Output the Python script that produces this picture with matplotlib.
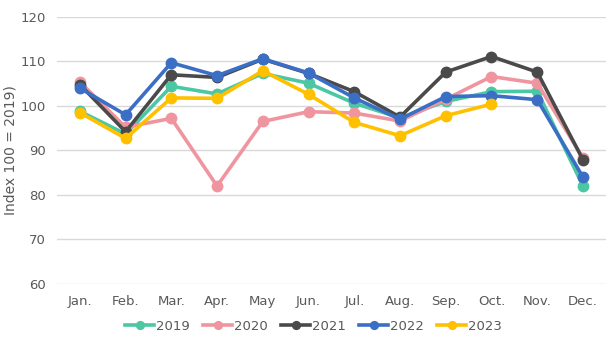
import matplotlib.pyplot as plt

months = ["Jan.", "Feb.", "Mar.", "Apr.", "May", "Jun.", "Jul.", "Aug.", "Sep.", "Oct.", "Nov.", "Dec."]
y2019 = [98.8, 93.7, 104.4, 102.7, 107.3, 105.1, 100.6, 97.3, 101.0, 103.2, 103.3, 82.0]
y2020 = [105.4, 95.2, 97.2, 82.0, 96.5, 98.7, 98.4, 96.6, 101.5, 106.6, 105.1, 88.3]
y2021 = [104.8, 94.2, 107.0, 106.4, 110.5, 107.3, 103.2, 97.5, 107.6, 111.1, 107.6, 87.9]
y2022 = [104.0, 98.0, 109.7, 106.8, 110.6, 107.4, 101.8, 97.0, 102.1, 102.3, 101.4, 84.0]
y2023 = [98.5, 92.7, 101.8, 101.7, 107.9, 102.6, 96.3, 93.3, 97.8, 100.4]

series = [
    ("2019", y2019, "#4cc7a4"),
    ("2020", y2020, "#f0959f"),
    ("2021", y2021, "#4a4a4a"),
    ("2022", y2022, "#3b6fc6"),
    ("2023", y2023, "#ffc000"),
]

fig = plt.figure(figsize=(6.16, 3.38), dpi=100)
ax = fig.add_axes([0.0925, 0.16, 0.891, 0.79])

for name, vals, col in series:
    ax.plot(range(len(vals)), vals, color=col, lw=2.6, marker="o", ms=7.5, label=name)

ax.set_xlim(-0.5, 11.5)
ax.set_ylim(60, 120)
ax.set_yticks(range(60, 121, 10))
ax.set_xticks(range(12))
ax.set_xticklabels(months)
ax.grid(axis="y", color="#d9d9d9", lw=1)
ax.set_axisbelow(True)
for s in ax.spines.values():
    s.set_visible(False)
ax.tick_params(length=0, labelsize=9.5, colors="#595959", pad=8)
ax.set_ylabel("Index 100 = 2019)", fontsize=10, color="#595959", labelpad=2)

ax.legend(loc="upper center", bbox_to_anchor=(0.468, -0.09), ncol=5, frameon=False,
          fontsize=9.5, labelcolor="#595959", handlelength=2.2, columnspacing=1.0,
          handletextpad=0.15, markerscale=0.75)

fig.savefig("out.png", dpi=100)
